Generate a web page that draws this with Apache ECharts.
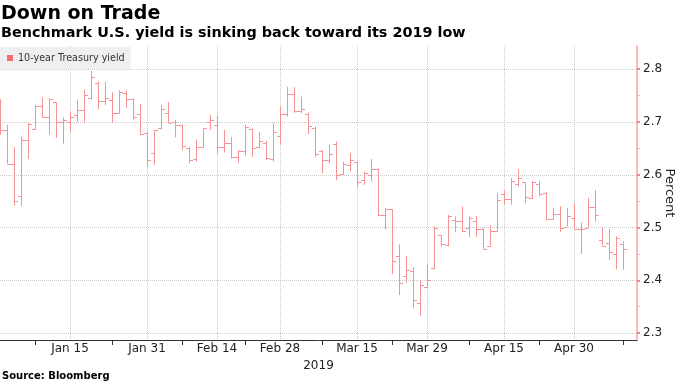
<!DOCTYPE html>
<html><head><meta charset="utf-8">
<script src="https://cdn.jsdelivr.net/npm/echarts@6/dist/echarts.min.js"></script>
<style>html,body{margin:0;padding:0;background:#fff}#c{width:680px;height:383px}</style>
</head><body><div id="c"></div>
<script>
// ---- data (10-year Treasury yield, daily OHLC, %) ----
const dates = ['2018-12-31','2019-01-02','2019-01-03','2019-01-04','2019-01-07','2019-01-08','2019-01-09','2019-01-10','2019-01-11','2019-01-14',
'2019-01-15','2019-01-16','2019-01-17','2019-01-18','2019-01-22','2019-01-23','2019-01-24','2019-01-25','2019-01-28','2019-01-29',
'2019-01-30','2019-01-31','2019-02-01','2019-02-04','2019-02-05','2019-02-06','2019-02-07','2019-02-08','2019-02-11','2019-02-12',
'2019-02-13','2019-02-14','2019-02-15','2019-02-19','2019-02-20','2019-02-21','2019-02-22','2019-02-25','2019-02-26','2019-02-27',
'2019-02-28','2019-03-01','2019-03-04','2019-03-05','2019-03-06','2019-03-07','2019-03-08','2019-03-11','2019-03-12','2019-03-13',
'2019-03-14','2019-03-15','2019-03-18','2019-03-19','2019-03-20','2019-03-21','2019-03-22','2019-03-25','2019-03-26','2019-03-27',
'2019-03-28','2019-03-29','2019-04-01','2019-04-02','2019-04-03','2019-04-04','2019-04-05','2019-04-08','2019-04-09','2019-04-10',
'2019-04-11','2019-04-12','2019-04-15','2019-04-16','2019-04-17','2019-04-18','2019-04-22','2019-04-23','2019-04-24','2019-04-25',
'2019-04-26','2019-04-29','2019-04-30','2019-05-01','2019-05-02','2019-05-03','2019-05-06','2019-05-07','2019-05-08','2019-05-09'];
const open = [2.720,2.685,2.620,2.559,2.666,2.686,2.730,2.709,2.737,2.700,
2.700,2.713,2.722,2.745,2.773,2.740,2.742,2.718,2.755,2.744,
2.715,2.680,2.642,2.689,2.718,2.700,2.695,2.650,2.630,2.652,
2.700,2.695,2.653,2.660,2.633,2.645,2.687,2.652,2.661,2.630,
2.674,2.715,2.754,2.721,2.716,2.688,2.645,2.628,2.658,2.601,
2.618,2.625,2.590,2.600,2.611,2.523,2.535,2.446,2.409,2.417,
2.357,2.388,2.423,2.486,2.467,2.515,2.512,2.500,2.512,2.497,
2.466,2.494,2.563,2.554,2.582,2.586,2.556,2.582,2.566,2.517,
2.525,2.502,2.518,2.498,2.500,2.539,2.477,2.470,2.450,2.469];
const high = [2.743,2.695,2.652,2.672,2.698,2.732,2.747,2.745,2.737,2.709,
2.720,2.742,2.761,2.797,2.777,2.776,2.756,2.760,2.760,2.745,
2.734,2.682,2.685,2.732,2.738,2.704,2.695,2.653,2.667,2.688,
2.713,2.712,2.685,2.672,2.647,2.695,2.688,2.681,2.664,2.698,
2.730,2.767,2.766,2.748,2.718,2.691,2.647,2.657,2.663,2.625,
2.641,2.625,2.606,2.630,2.612,2.537,2.535,2.468,2.446,2.425,
2.400,2.429,2.503,2.486,2.524,2.521,2.540,2.521,2.522,2.499,
2.505,2.565,2.571,2.594,2.611,2.586,2.588,2.588,2.567,2.537,
2.540,2.537,2.546,2.510,2.556,2.571,2.500,2.497,2.484,2.474];
const low = [2.676,2.621,2.542,2.540,2.630,2.685,2.708,2.676,2.670,2.658,
2.680,2.700,2.699,2.743,2.724,2.732,2.700,2.716,2.727,2.705,
2.676,2.614,2.619,2.686,2.698,2.671,2.647,2.622,2.625,2.652,
2.685,2.640,2.642,2.631,2.623,2.636,2.634,2.650,2.628,2.625,
2.657,2.710,2.717,2.717,2.677,2.633,2.603,2.622,2.590,2.600,
2.606,2.577,2.581,2.587,2.521,2.496,2.412,2.372,2.396,2.347,
2.333,2.385,2.421,2.464,2.464,2.491,2.491,2.482,2.482,2.459,
2.464,2.492,2.543,2.543,2.578,2.546,2.554,2.559,2.515,2.515,
2.492,2.502,2.498,2.450,2.500,2.511,2.466,2.439,2.421,2.420];
const close = [2.685,2.621,2.551,2.666,2.696,2.730,2.709,2.743,2.700,2.703,
2.710,2.723,2.752,2.785,2.740,2.745,2.717,2.756,2.744,2.709,
2.677,2.628,2.685,2.724,2.699,2.695,2.655,2.628,2.652,2.688,
2.704,2.653,2.660,2.633,2.645,2.691,2.650,2.664,2.631,2.682,
2.715,2.754,2.721,2.724,2.693,2.640,2.628,2.640,2.600,2.620,
2.628,2.587,2.603,2.611,2.523,2.535,2.436,2.395,2.420,2.362,
2.391,2.400,2.499,2.469,2.521,2.513,2.494,2.518,2.498,2.460,
2.494,2.552,2.554,2.588,2.594,2.558,2.587,2.564,2.517,2.526,
2.500,2.522,2.498,2.498,2.539,2.523,2.466,2.453,2.480,2.459];

const labelDates = ['2019-01-15','2019-01-31','2019-02-14','2019-02-28','2019-03-15','2019-03-29','2019-04-15','2019-04-30'];
const labelTexts = ['Jan 15','Jan 31','Feb 14','Feb 28','Mar 15','Mar 29','Apr 15','Apr 30'];
const tickDates = ['2019-01-08','2019-01-24','2019-02-07','2019-02-21','2019-03-08','2019-03-22','2019-04-08','2019-04-23','2019-05-09'];
const yTicks = [2.3, 2.4, 2.5, 2.6, 2.7, 2.8];
const seriesName = '10-year Treasury yield';

const ohlc = dates.map((d, i) => [i, open[i], close[i], low[i], high[i]]);
const barColor = '#f59393';
const FONT = 'DejaVu Sans';

function renderItem(params, api) {
  const i = api.value(0);
  const x = Math.round(api.coord([i, api.value(1)])[0]) + 0.5;
  const yO = Math.round(api.coord([i, api.value(1)])[1]) + 0.5;
  const yC = Math.round(api.coord([i, api.value(2)])[1]) + 0.5;
  const yL = api.coord([i, api.value(3)])[1];
  const yH = api.coord([i, api.value(4)])[1];
  const st = { stroke: barColor, lineWidth: 1 };
  return { type: 'group', children: [
    { type: 'line', shape: { x1: x, y1: yH, x2: x, y2: yL }, style: st },
    { type: 'line', shape: { x1: x - 3.5, y1: yO, x2: x, y2: yO }, style: st },
    { type: 'line', shape: { x1: x, y1: yC, x2: x + 3.5, y2: yC }, style: st }
  ]};
}

const chart = echarts.init(document.getElementById('c'), null, { renderer: 'canvas' });
chart.setOption({
  animation: false,
  textStyle: { fontFamily: FONT },
  title: [
    { text: 'Down on Trade', left: 1, top: 5, padding: 0,
      textStyle: { fontFamily: FONT, fontWeight: 'bold', fontSize: 19, color: '#000' } },
    { text: 'Benchmark U.S. yield is sinking back toward its 2019 low', left: 1, top: 26, padding: 0,
      textStyle: { fontFamily: FONT, fontWeight: 'bold', fontSize: 14.4, color: '#000' } },
    { text: 'Source: Bloomberg', left: 2, top: 371, padding: 0,
      textStyle: { fontFamily: FONT, fontWeight: 'bold', fontSize: 10, color: '#000' } }
  ],
  legend: {
    left: 0, top: 47, padding: [6, 6, 6, 7],
    backgroundColor: '#efefef',
    itemWidth: 6, itemHeight: 6, itemGap: 5,
    textStyle: { fontFamily: FONT, fontSize: 9.6, color: '#333' },
    data: [{ name: seriesName, icon: 'rect', itemStyle: { color: '#f76d6d' } }]
  },
  grid: { left: 0, right: 43, top: 46, bottom: 43, containLabel: false, outerBoundsMode: 'none' },
  xAxis: {
    type: 'category', data: dates, boundaryGap: false, max: 90.7,
    name: '2019', nameLocation: 'middle', nameGap: 16,
    nameTextStyle: { fontFamily: FONT, fontSize: 12, color: '#222' },
    axisLine: { show: true, lineStyle: { color: '#333', width: 1 } },
    axisTick: { show: true, length: 5, lineStyle: { color: '#333' },
      interval: (idx, val) => tickDates.includes(val) },
    axisLabel: { show: true, margin: 3, fontSize: 12, color: '#222', fontFamily: FONT,
      interval: (idx, val) => labelDates.includes(val),
      formatter: (val) => { const k = labelDates.indexOf(val); return k >= 0 ? labelTexts[k] : ''; } },
    splitLine: { show: true, lineStyle: { type: 'dotted', color: '#c9c9c9', width: 1 },
      interval: (idx, val) => labelDates.includes(val) }
  },
  yAxis: {
    type: 'value', position: 'right', min: 2.287, max: 2.844, scale: true,
    name: 'Percent', nameLocation: 'middle', nameGap: 26, nameRotate: -90, nameMoveOverlap: false,
    nameTextStyle: { fontFamily: FONT, fontSize: 13, color: '#222' },
    axisLine: { show: true, onZero: false, lineStyle: { color: '#f8a3a3', width: 1.5 } },
    axisTick: { show: true, length: 3, customValues: yTicks, lineStyle: { color: '#f06a6a', width: 1.5 } },
    minorTick: { show: true, splitNumber: 2, length: 3, lineStyle: { color: '#f8b8b8' } },
    axisLabel: { show: true, margin: 6, fontSize: 12, color: '#222', fontFamily: FONT,
      customValues: yTicks, formatter: (v) => v.toFixed(1) },
    splitLine: { show: true, lineStyle: { type: 'dotted', color: '#c9c9c9', width: 1 } }
  },
  series: [{
    name: seriesName, type: 'custom', renderItem: renderItem, clip: true,
    itemStyle: { color: '#f76d6d' },
    encode: { x: 0, y: [1, 2, 3, 4] },
    data: ohlc
  }]
});
</script></body></html>
